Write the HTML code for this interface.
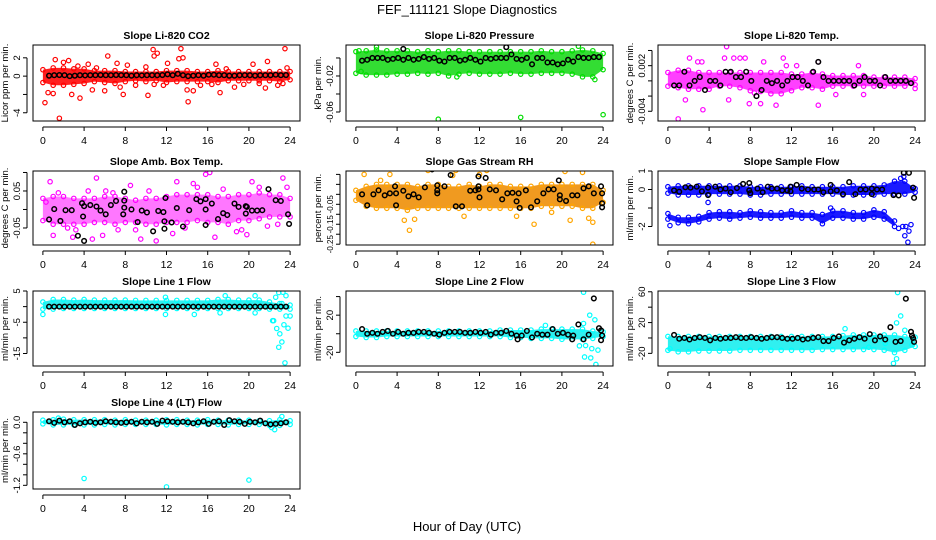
<!DOCTYPE html>
<html><head><meta charset="utf-8"><style>
body{margin:0;background:#fff;}
svg{display:block;font-family:"Liberation Sans",sans-serif;}
</style></head><body>
<svg id="c" width="936" height="540" viewBox="0 0 936 540">
<text x="467" y="14" text-anchor="middle" font-size="13">FEF_111121  Slope Diagnostics</text>
<text x="467" y="531" text-anchor="middle" font-size="13">Hour of Day (UTC)</text>
</svg>
<script>
const envHours=[0,1,2,3,4,5,6,7,8,9,10,11,12,13,14,15,16,17,18,19,20,21,22,23,24];
const blkHours=[0.6,1.1,1.6,2.1,2.6,3.1,3.6,4.1,4.6,5.1,5.6,6.1,6.6,7.1,7.6,8.1,8.6,9.1,9.6,10.1,10.6,11.1,11.6,12.1,12.6,13.1,13.6,14.1,14.6,15.1,15.6,16.1,16.6,17.1,17.6,18.1,18.6,19.1,19.6,20.1,20.6,21.1,21.6,22.1,22.6,23.1,23.6];
const xTicks=[0,4,8,12,16,20,24];

// CO2
const co2Hi=[0.7,0.9,0.9,0.8,0.8,0.6,0.6,0.6,0.5,0.5,0.5,0.5,0.6,0.6,0.6,0.5,0.5,0.6,0.5,0.5,0.5,0.5,0.5,0.5,0.5];
const co2Lo=[-0.7,-1.0,-1.0,-0.9,-0.8,-0.6,-0.7,-0.8,-0.6,-0.5,-0.6,-0.5,-0.7,-0.6,-0.6,-0.6,-0.6,-0.7,-0.5,-0.5,-0.5,-0.5,-0.5,-0.6,-0.4];
const co2OutH=[0.2,0.5,1.2,1.0,1.6,2.0,2.5,2.8,3.4,3.6,4.4,4.8,5.2,6.0,6.3,7.2,7.5,7.8,8.2,9.0,10.0,10.2,10.8,11.1,11.7,12.1,13.2,13.4,13.6,14.0,14.1,14.6,15.3,16.4,16.8,17.2,17.8,18.6,19.5,20.4,21.0,21.6,21.8,22.8,23.3,23.5,23.7,10.7,10.8];
const co2OutV=[-2.9,-1.8,1.8,-1.9,-4.6,1.5,1.7,-2.0,1.1,-2.4,1.3,-1.5,0.9,-1.6,2.2,1.4,-1.2,-2.0,1.2,-1.0,1.0,-2.1,-0.9,2.5,-1.0,1.4,1.9,3.0,2.0,-1.5,-2.8,-1.6,-1.0,-0.9,1.3,-1.8,0.8,-1.2,-0.9,1.3,-0.8,-1.3,1.6,-1.0,-0.8,3.0,0.9,2.9,2.2];
const co2Blk=[0.05,0.1,0.12,0.1,0.0,0.05,0.1,0.08,0.1,0.1,0.12,0.1,0.1,0.12,0.1,0.1,0.05,0.1,0.08,0.1,0.1,0.1,0.12,0.2,0.1,0.25,0.1,0.0,0.05,0.1,0.05,0.15,0.15,0.1,0.1,0.05,0.05,0.1,0.1,0.1,0.05,0.1,0.1,0.1,0.15,0.1,0.12];

// Pressure
const presHi=[0.007,0.008,0.009,0.008,0.008,0.008,0.007,0.008,0.007,0.008,0.008,0.007,0.007,0.007,0.007,0.007,0.007,0.007,0.008,0.007,0.007,0.008,0.009,0.008,0.005];
const presLo=[-0.017,-0.019,-0.019,-0.019,-0.018,-0.018,-0.017,-0.018,-0.017,-0.02,-0.018,-0.017,-0.018,-0.018,-0.018,-0.017,-0.018,-0.018,-0.017,-0.017,-0.017,-0.018,-0.021,-0.021,-0.013];
const presOutH=[8,16,24,2.0,0.3,9.8,23.2,21.6,0.5];
const presOutV=[-0.068,-0.066,-0.063,0.012,0.008,-0.021,-0.024,0.013,-0.015];
const presBlk=[-0.003,-0.002,0.0,0.0,0.0,-0.002,-0.001,0.0,-0.002,0.0,-0.002,-0.001,0.001,-0.001,0.0,-0.003,-0.004,0.0,0.0,-0.003,-0.002,0.0,-0.002,-0.004,0.0,-0.001,0.0,0.0,0.0,0.004,-0.001,-0.002,0.0,-0.007,0.0,0.0,-0.005,-0.005,-0.007,-0.006,-0.002,-0.004,0.001,0.0,0.0,0.001,0.001];
const presBlkXH=[4.6,14.6];
const presBlkXV=[0.010,0.012];

// Li-820 Temp
const tempHi=[0.0011,0.0014,0.0014,0.0011,0.0011,0.0011,0.0011,0.0011,0.0011,0.0011,0.0011,0.0011,0.0009,0.0009,0.0011,0.0009,0.0007,0.0007,0.0007,0.0007,0.0005,0.0005,0.0005,0.0005,0.0003];
const tempLo=[-0.0007,-0.0009,-0.0011,-0.0011,-0.0011,-0.0007,-0.0007,-0.0009,-0.0013,-0.0014,-0.0017,-0.0017,-0.0013,-0.0009,-0.0009,-0.0011,-0.0007,-0.0007,-0.0007,-0.0007,-0.0007,-0.0007,-0.0007,-0.0007,-0.0005];
const tempOutH=[1,1.7,2.1,2.9,3.3,3.4,5.7,5.5,5.9,6.4,7.0,7.5,7.9,8.4,9.0,9.3,10.5,11.2,11.5,12.5,14.6,14.6,16.3,18.5,19.0,24];
const tempOutV=[-0.005,-0.0025,0.003,0.0025,0.0025,-0.0038,0.0045,0.003,-0.0025,0.003,0.003,0.003,-0.003,-0.0016,-0.003,0.0025,-0.0032,0.003,0.002,0.002,-0.0032,0.0025,-0.0018,0.002,-0.0018,-0.001];
const tempBlk=[-0.0006,-0.0006,0.0012,-0.0006,0,0.0005,-0.0012,0,0,-0.0006,0.0012,0.0012,0.0005,0.0005,0.0012,0,-0.002,-0.0012,0,-0.0003,0,-0.0006,0,0.0005,0.0005,0,-0.0006,0.0012,0.0025,0.0005,0,0,0,0,0,-0.0006,0,0.0005,0,0,-0.0006,0.0005,0,0,0,0,-0.0003];

// Amb box temp
const ambHi=[0.03,0.035,0.035,0.03,0.03,0.03,0.035,0.035,0.03,0.025,0.03,0.03,0.035,0.04,0.04,0.04,0.04,0.035,0.035,0.04,0.04,0.045,0.04,0.04,0.03];
const ambLo=[-0.03,-0.04,-0.04,-0.04,-0.04,-0.035,-0.035,-0.04,-0.035,-0.035,-0.04,-0.04,-0.035,-0.035,-0.035,-0.03,-0.035,-0.035,-0.04,-0.03,-0.03,-0.025,-0.02,-0.02,-0.02];
const ambOutH=[0.7,1.0,5.2,11,9.5,15.8,16.2,14.6,13,20.3,22.1,23.3,23.7,16.7,19.8,4.8,5.8,2.9,4.4,6.1,12.6,21.8,0.3,8.5,1.5,3.2,6.8,9.0,10.3,13.8,17.5,18.8,21.0,2.4,7.3,15.0,19.3,22.8];
const ambOutV=[0.075,-0.07,0.085,-0.085,-0.08,0.095,0.1,0.07,0.075,0.075,0.11,0.085,0.06,-0.075,-0.068,-0.08,-0.07,-0.075,0.05,0.05,-0.065,-0.045,0.02,0.065,0.045,-0.055,0.045,-0.055,0.05,-0.05,0.055,-0.06,0.06,-0.05,-0.055,0.06,-0.055,-0.04];
const ambBlkH=[0.6,1.1,1.7,2.2,2.8,3.4,3.8,3.9,4.0,4.0,4.6,5.2,5.6,6.1,6.6,7.1,7.9,7.9,7.9,7.8,8.6,9.2,9.6,10.1,10.7,11.2,11.7,11.8,11.8,11.9,12.5,13.0,13.6,14.2,14.9,15.3,15.8,15.8,15.8,16.4,17.0,17.5,17.9,18.6,19.0,19.7,19.7,19.8,20.3,20.8,21.3,21.9,22.6,23.1,23.8,23.9];
const ambBlkV=[-0.027,0.001,-0.031,-0.002,-0.002,-0.071,0.017,-0.019,-0.085,0.009,0.012,0.008,-0.003,-0.013,0.012,0.023,0.024,0.048,0.005,-0.013,0.0,-0.034,-0.003,-0.008,-0.059,-0.004,-0.007,-0.032,-0.052,0.031,-0.035,0.004,-0.046,-0.002,0.028,0.022,0.028,-0.042,0.0,0.016,-0.026,-0.010,-0.015,0.016,0.007,0.009,-0.011,0.007,-0.003,-0.003,-0.002,0.055,0.025,0.023,-0.013,-0.039];

// Gas stream RH
const rhHi=[0.02,0.04,0.05,0.05,0.05,0.05,0.04,0.05,0.05,0.04,0.04,0.05,0.04,0.05,0.05,0.04,0.04,0.04,0.05,0.05,0.05,0.05,0.05,0.05,0.02];
const rhLo=[-0.03,-0.06,-0.07,-0.07,-0.07,-0.08,-0.07,-0.07,-0.07,-0.07,-0.07,-0.07,-0.07,-0.07,-0.07,-0.07,-0.07,-0.07,-0.06,-0.06,-0.06,-0.06,-0.07,-0.07,-0.04];
const rhOutH=[4.7,5.2,5.7,7.0,9.7,9.4,10.5,12.7,15.6,17.3,20.3,19.0,20.8,22.6,23.0,23.0,22.0,0.8,2.4,3.3,12.0];
const rhOutV=[-0.13,-0.18,-0.125,0.12,0.12,0.095,-0.11,0.12,-0.11,-0.15,0.115,-0.09,-0.13,-0.12,-0.14,-0.25,0.11,0.1,0.07,0.1,0.1];
const rhBlkH=[0.6,1.1,1.7,2.2,2.8,3.3,3.8,3.9,3.9,4.6,5.1,5.6,6.1,6.7,7.4,7.9,7.9,7.9,8.6,9.2,9.7,10.3,11.1,11.6,11.9,11.9,11.9,12.0,12.6,13.0,13.6,14.2,14.7,15.2,15.6,15.8,15.9,16.5,17.0,17.6,18.2,18.7,19.2,19.7,19.8,19.8,20.4,21.0,21.5,22.1,22.6,23.1,23.8,23.9,23.9,23.9];
const rhBlkV=[0,-0.055,0,0.02,-0.005,0.005,0.04,0.005,-0.055,0.018,-0.01,0,-0.015,0.035,0.125,0.045,0.02,0.005,0.04,0.097,-0.06,-0.06,0.018,0.02,0.09,0.04,0.025,-0.015,0.082,0.025,0.02,-0.025,0.005,0.008,-0.035,0.005,-0.068,0.02,-0.065,-0.035,0.005,0.025,0.025,0.07,-0.005,-0.025,-0.033,-0.005,-0.005,0.03,0.04,0.005,0.04,0.005,-0.045,-0.065];

// Sample flow
const sfHi=[0.15,0.2,0.2,0.2,0.2,0.2,0.2,0.2,0.15,0.15,0.15,0.15,0.15,0.2,0.15,0.15,0.15,0.15,0.2,0.2,0.2,0.25,0.45,0.45,0.05];
const sfLo=[-0.2,-0.3,-0.3,-0.3,-0.25,-0.25,-0.25,-0.25,-0.3,-0.3,-0.25,-0.25,-0.25,-0.25,-0.25,-0.25,-0.25,-0.3,-0.3,-0.3,-0.3,-0.25,-0.25,-0.25,-0.15];
const sf2Hours=[0,1,2,3,4,5,6,7,8,9,10,11,12,13,14,15,16,17,18,19,20,21,22];
const sf2Hi=[-1.3,-1.5,-1.5,-1.45,-1.25,-1.2,-1.2,-1.25,-1.15,-1.2,-1.25,-1.25,-1.15,-1.25,-1.25,-1.35,-1.15,-1.15,-1.25,-1.25,-1.1,-1.2,-1.7];
const sf2Lo=[-1.6,-1.8,-1.85,-1.75,-1.6,-1.55,-1.6,-1.55,-1.5,-1.55,-1.55,-1.55,-1.5,-1.55,-1.55,-1.85,-1.55,-1.55,-1.6,-1.6,-1.5,-1.6,-2.0];
const sfOutH=[0.2,3.9,15.8,22.8,23.0,23.3,23.4,23.6,22.6,22.9,22.4,23.1];
const sfOutV=[-1.95,-0.7,-1.0,-2.0,-2.5,-2.85,-2.25,-1.9,0.6,0.7,-2.1,-2.0];
const sfBlkH=[0.6,1.1,1.7,2.2,2.8,3.3,3.9,3.9,4.6,5.1,5.6,6.1,6.7,7.3,7.9,7.9,8.0,8.7,9.2,9.7,10.1,10.6,11.1,11.6,11.9,11.9,12.5,13.0,13.6,14.2,14.6,15.1,15.8,15.8,16.4,17.0,17.6,18.2,18.7,19.2,19.8,19.8,20.3,20.8,21.9,22.4,22.9,23.4,23.8,23.9];
const sfBlkV=[-0.05,-0.12,0.12,0.1,0.15,-0.1,0.1,-0.3,0.15,0,0.05,-0.15,0.08,0.3,0.35,-0.05,-0.2,0.05,-0.15,0.15,0.05,0.05,-0.05,-0.05,0.15,-0.1,0.25,0.05,0,0,0,-0.15,0.25,-0.1,-0.05,-0.25,0.4,-0.25,0,0,-0.25,0.05,0,0,-0.3,-0.32,0.9,0.9,0.1,-0.45];

// Line 1
const l1Hi=[1.5,2.3,2.3,2.1,2.3,2.1,2.1,2.1,2.1,2.0,2.0,2.0,2.0,2.0,2.0,2.0,2.0,2.3,2.3,2.1,2.1,2.1,1.5,1,0.5];
const l1Lo=[-0.8,-0.8,-0.6,-0.6,-0.6,-0.6,-0.6,-0.6,-0.6,-0.6,-0.6,-0.6,-0.6,-0.6,-0.6,-0.6,-0.6,-0.6,-0.6,-0.6,-0.6,-0.6,-0.8,-0.8,-0.8];
const l1OutH=[0,11.9,11.9,14.7,17.2,17.7,20.6,20.6,22.3,22.6,22.9,22.9,22.7,23.0,23.2,23.3,23.4,23.5,23.6,23.8,24.0,22.4,23.6,23.2];
const l1OutV=[-2.5,3,-2.5,-2.5,-2,3.5,3.5,-2,-4.5,3,4.5,-13,-7,-8.7,-11.3,4.6,-5.8,-18,-3,-6.9,-3,-4.5,3.5,1];
const l1Blk=[0,0,0,0,0,0,0,0,0,0,0,0,0,0,0,0,0,0,0,0,0,0,0,0,0,0,0,0,0,0,0,0,0,0,0,0,0,0,0,0,0,0,0,0,0,0,0];

// Line 2
const l2Hi=[3,3,3,3,3,3,3,3,3,3,3,3,3,3,4,4,4,4,5,5,5,5,5,3,2];
const l2Lo=[-3,-4,-4,-3,-3,-3,-3,-3,-3,-3,-3,-3,-3,-3,-3,-4,-4,-5,-5,-5,-6,-6,-6,-5,-3];
const l2OutH=[22.1,22.7,22.1,23.2,22.3,22.2,22.8,23.3,23.5,22.9,21.7,18.4];
const l2OutV=[44.7,20,11,15,-12.7,-25,-26,-33,-17.6,-16,-13,9];
const l2Blk=[5,0,1,0,2,3,0,2,0,1,1,2,2,1,0,-1,1,2,2,2,1,1,2,1,2,-1,1,1,3,0,-2,-2,3,-4,0,-1,-1,5,0,1,-1,-2,10,-6,-1,38,6];
const l2BlkXH=[23.8,23.9,23.8,15.7,21.0];
const l2BlkXV=[3.6,-1.8,-7,-6,-6];

// Line 3
const l3Hi=[2,2,2,2,2,2,2,2,2,2,2,2,2,2,2,2,2,3,4,4,4,4,4,2,1];
const l3Lo=[-16,-18,-18,-17,-17,-17,-17,-16,-16,-16,-16,-16,-16,-16,-16,-15,-15,-15,-15,-15,-15,-16,-19,-16,-11];
const l3OutH=[22.3,22.6,22.2,21.1,21.9,22.2,23.0,23.7,17.2,0.2,19.5];
const l3OutV=[59,28.6,19.6,-7,-33,-27,10,-9,12,-14,-12];
const l3Blk=[4,-1,0,-2,0,1,0,-3,0,-1,0,0,1,0,0,1,0,-1,0,1,1,0,-1,-1,0,-2,-1,0,1,-4,-4,0,2,-6,-3,-1,1,-1,5,-3,2,-2,14,-5,-4,51,8];
const l3BlkXH=[23.8,23.9,23.7];
const l3BlkXV=[0,-5,3];

// Line 4
const l4Hi=[0.04,0.05,0.06,0.05,0.05,0.05,0.05,0.04,0.05,0.04,0.04,0.04,0.05,0.05,0.04,0.04,0.05,0.04,0.04,0.04,0.04,0.03,0.03,0.05,0.03];
const l4Lo=[-0.03,-0.05,-0.05,-0.05,-0.05,-0.05,-0.04,-0.05,-0.04,-0.04,-0.04,-0.04,-0.05,-0.04,-0.04,-0.05,-0.04,-0.04,-0.05,-0.04,-0.04,-0.04,-0.06,-0.06,-0.04];
const l4OutH=[4,12,20,23.2,1.5,22.2,22.5];
const l4OutV=[-1.07,-1.23,-1.1,0.11,0.08,-0.1,-0.14];
const l4Blk=[0.02,-0.01,0.03,0.0,0.02,-0.05,-0.02,0.0,0.01,-0.01,0.0,0.02,0.01,0.0,-0.01,0.0,0.01,-0.02,0.01,0.0,0.01,-0.03,0.03,0.02,0.01,0.0,0.01,0.0,-0.02,0.0,0.02,-0.03,0.01,0.02,-0.05,0.04,0.02,0.01,-0.03,0.01,0.0,0.03,-0.02,-0.04,-0.03,-0.02,0.0];

const NS='http://www.w3.org/2000/svg';
const svg=document.getElementById('c');
const colX=[33,346,658], PW=267;
const rowY=[[45,121],[171,245],[291,366],[412,489]];
const XMIN=-0.96, XMAX=24.96;

function el(tag,attrs,parent){const e=document.createElementNS(NS,tag);for(const k in attrs)e.setAttribute(k,attrs[k]);(parent||svg).appendChild(e);return e;}

function panel(p){
  const L=colX[p.col],T=rowY[p.row][0],B=rowY[p.row][1];
  const g=el('g',{});
  
  
  const sx=h=>L+(h-XMIN)/(XMAX-XMIN)*PW;
  const sy=v=>B-(v-p.ymin)/(p.ymax-p.ymin)*(B-T);
  const clipId='clip-'+p.name;
  const cp=el('clipPath',{id:clipId},g);el('rect',{x:L,y:T,width:PW,height:B-T},cp);
  const plot=el('g',{'clip-path':'url(#'+clipId+')'},g);
  
  
  p.bands.forEach(bd=>{
    let pts=bd.h.map((h,i)=>sx(h)+','+sy(bd.hi[i]));
    for(let i=bd.h.length-1;i>=0;i--)pts.push(sx(bd.h[i])+','+sy(bd.lo[i]));
    const poly=el('polygon',{points:pts.join(' '),fill:p.fill,'fill-opacity':p.op||1,stroke:'none'},plot);
    
    
    bd.h.forEach((h,i)=>{
      [bd.hi[i],bd.lo[i]].forEach(v=>{
        const c=el('circle',{cx:sx(h),cy:sy(v),r:2.2,fill:'none',stroke:p.color,'stroke-width':1.2},plot);
        
        
      });
    });
  });
  p.outH.forEach((h,i)=>{
    const c=el('circle',{cx:sx(h),cy:sy(p.outV[i]),r:2.2,fill:'none',stroke:p.color,'stroke-width':1.2},plot);
    
    
  });
  p.blk.forEach(b=>{
    b.h.forEach((h,i)=>{
      const c=el('circle',{cx:sx(h),cy:sy(b.v[i]),r:2.3,fill:'none',stroke:'#000','stroke-width':1.5},plot);
      
      
    });
  });
  const box=el('rect',{x:L,y:T,width:PW,height:B-T,fill:'none',stroke:'#000','stroke-width':1},g);
  
  
  const t=el('text',{x:L+PW/2,y:T-6,'text-anchor':'middle','font-size':10.5,'font-weight':'bold'},g);
  t.textContent=p.title;
  
  
  el('line',{x1:sx(0),x2:sx(24),y1:B+6,y2:B+6,stroke:'#000'},g);
  xTicks.forEach(v=>{
    el('line',{x1:sx(v),x2:sx(v),y1:B+6,y2:B+10,stroke:'#000'},g);
    const tx=el('text',{x:sx(v),y:B+23,'text-anchor':'middle','font-size':10.5},g);
    tx.textContent=String(v);
    
    
  });
  const yt=p.ticks;
  el('line',{x1:L-6,x2:L-6,y1:sy(yt[0]),y2:sy(yt[yt.length-1]),stroke:'#000'},g);
  yt.forEach((v,i)=>{
    el('line',{x1:L-10,x2:L-6,y1:sy(v),y2:sy(v),stroke:'#000'},g);
    if(p.labels[i]){
      const X=L-13,Y=sy(v);
      const tx=el('text',{x:X,y:Y,'text-anchor':'middle','font-size':p.tfs||9.5,transform:'rotate(-90 '+X+' '+Y+')'},g);
      tx.textContent=p.labels[i];
      
      
    }
  });
  const yx=L-25,yy=(T+B)/2;
  const yl=el('text',{x:yx,y:yy,'text-anchor':'middle','font-size':9.5,transform:'rotate(-90 '+yx+' '+yy+')'},g);
  yl.textContent=p.ylab;
  
  
}

const E=envHours;
panel({name:'co2',col:0,row:0,title:'Slope Li-820 CO2',ylab:'Licor ppm per min.',ymin:-4.9,ymax:3.4,ticks:[-4,-2,0,2],labels:['-4','','0','2'],color:'#ff0000',fill:'#ff2020',bands:[{h:E,hi:co2Hi,lo:co2Lo}],outH:co2OutH,outV:co2OutV,blk:[{h:blkHours,v:co2Blk}]});
panel({name:'pressure',col:1,row:0,title:'Slope Li-820 Pressure',ylab:'kPa per min.',ymin:-0.07,ymax:0.0144,ticks:[-0.06,-0.04,-0.02,0],labels:['-0.06','','-0.02',''],color:'#00dd00',fill:'#33dd33',bands:[{h:E,hi:presHi,lo:presLo}],outH:presOutH,outV:presOutV,blk:[{h:blkHours,v:presBlk},{h:presBlkXH,v:presBlkXV}]});
panel({name:'li820-temp',col:2,row:0,title:'Slope Li-820 Temp.',ylab:'degrees C per min.',ymin:-0.00528,ymax:0.00472,ticks:[-0.004,-0.002,0,0.002,0.004],labels:['-0.004','','','0.002',''],color:'#ff00ff',fill:'#ff40ff',bands:[{h:E,hi:tempHi,lo:tempLo}],outH:tempOutH,outV:tempOutV,blk:[{h:blkHours,v:tempBlk}]});
panel({name:'amb-box-temp',col:0,row:1,title:'Slope Amb. Box Temp.',ylab:'degrees C per min.',ymin:-0.096,ymax:0.104,ticks:[-0.05,0,0.05,0.1],labels:['-0.05','','0.05',''],color:'#ff00ff',fill:'#ff55ff',op:0.8,bands:[{h:E,hi:ambHi,lo:ambLo}],outH:ambOutH,outV:ambOutV,blk:[{h:ambBlkH,v:ambBlkV}]});
panel({name:'gas-stream-rh',col:1,row:1,title:'Slope Gas Stream RH',ylab:'percent per min.',ymin:-0.254,ymax:0.117,ticks:[-0.25,-0.2,-0.15,-0.1,-0.05,0,0.05,0.1],labels:['-0.25','','-0.15','','-0.05','','',''],tfs:8,color:'#ffa500',fill:'#f09a20',bands:[{h:E,hi:rhHi,lo:rhLo}],outH:rhOutH,outV:rhOutV,blk:[{h:rhBlkH,v:rhBlkV}]});
panel({name:'sample-flow',col:2,row:1,title:'Slope Sample Flow',ylab:'ml/min per min.',ymin:-3.0,ymax:1.0,ticks:[-2,-1,0,1],labels:['-2','','0','1'],color:'#0000ff',fill:'#1a1aff',bands:[{h:E,hi:sfHi,lo:sfLo},{h:sf2Hours,hi:sf2Hi,lo:sf2Lo}],outH:sfOutH,outV:sfOutV,blk:[{h:sfBlkH,v:sfBlkV}]});
panel({name:'line1-flow',col:0,row:2,title:'Slope Line 1 Flow',ylab:'ml/min per min.',ymin:-19,ymax:5,ticks:[-15,-10,-5,0,5],labels:['-15','','-5','','5'],color:'#00ffff',fill:'#30f0f0',bands:[{h:E,hi:l1Hi,lo:l1Lo}],outH:l1OutH,outV:l1OutV,blk:[{h:blkHours,v:l1Blk}]});
panel({name:'line2-flow',col:1,row:2,title:'Slope Line 2 Flow',ylab:'ml/min per min.',ymin:-34.7,ymax:46,ticks:[-20,0,20,40],labels:['-20','','20',''],color:'#00ffff',fill:'#30f0f0',bands:[{h:E,hi:l2Hi,lo:l2Lo}],outH:l2OutH,outV:l2OutV,blk:[{h:blkHours,v:l2Blk},{h:l2BlkXH,v:l2BlkXV}]});
panel({name:'line3-flow',col:2,row:2,title:'Slope Line 3 Flow',ylab:'ml/min per min.',ymin:-36.4,ymax:61,ticks:[-20,0,20,40,60],labels:['-20','','20','','60'],color:'#00ffff',fill:'#30f0f0',bands:[{h:E,hi:l3Hi,lo:l3Lo}],outH:l3OutH,outV:l3OutV,blk:[{h:blkHours,v:l3Blk},{h:l3BlkXH,v:l3BlkXV}]});
panel({name:'line4-flow',col:0,row:3,title:'Slope Line 4 (LT) Flow',ylab:'ml/min per min.',ymin:-1.27,ymax:0.196,ticks:[-1.2,-1.0,-0.8,-0.6,-0.4,-0.2,0],labels:['-1.2','','','-0.6','','','0.0'],color:'#00ffff',fill:'#30f0f0',bands:[{h:E,hi:l4Hi,lo:l4Lo}],outH:l4OutH,outV:l4OutV,blk:[{h:blkHours,v:l4Blk}]});
</script>
</body></html>
